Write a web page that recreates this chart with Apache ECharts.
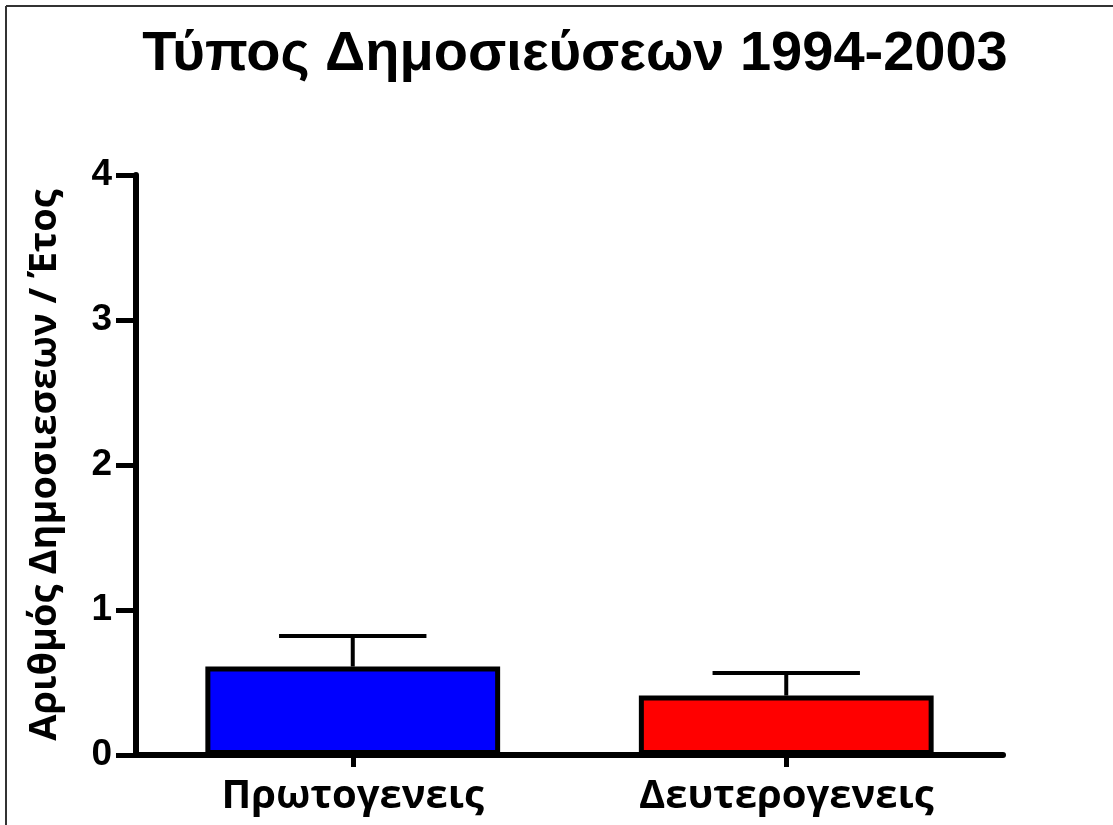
<!DOCTYPE html>
<html>
<head>
<meta charset="utf-8">
<script src="https://cdn.jsdelivr.net/npm/echarts@6/dist/echarts.min.js"></script>
<style>
  html, body { margin: 0; padding: 0; background: #fff; }
  #chart { width: 1113px; height: 825px; }
</style>
</head>
<body>
<div id="chart"></div>
<script>
const categories = ['Πρωτογενεις', 'Δευτερογενεις'];
const means = [0.61, 0.41];
const upper = [0.82, 0.565];
const barColors = ['#0000ff', '#ff0000'];
const yTicks = [0, 1, 2, 3, 4];

const chart = echarts.init(document.getElementById('chart'), null, { renderer: 'canvas' });

const option = {
  animation: false,
  backgroundColor: '#fff',
  title: {
    text: 'Τύπος Δημοσιεύσεων 1994-2003',
    left: 570,
    textAlign: 'center',
    top: 22,
    textStyle: {
      fontFamily: '"Liberation Sans Narrow", "Liberation Sans", Arial, sans-serif',
      fontWeight: 'bold',
      fontSize: 56,
      color: '#000'
    }
  },
  grid: { left: 136, right: 110, top: 175, bottom: 70 },
  xAxis: {
    type: 'category',
    data: categories,
    axisLine: { lineStyle: { color: '#000', width: 6 } },
    axisTick: { show: true, alignWithLabel: true, length: 12, lineStyle: { color: '#000', width: 5 } },
    axisLabel: {
      margin: 22,
      fontFamily: '"Open Sans", "DejaVu Sans", sans-serif',
      fontWeight: 'bold',
      fontSize: 40,
      color: '#000'
    }
  },
  yAxis: {
    type: 'value',
    min: yTicks[0],
    max: yTicks[yTicks.length - 1],
    interval: 1,
    name: 'Αριθμός Δημοσιεσεων / Έτος',
    nameLocation: 'middle',
    nameGap: 72,
    nameRotate: 90,
    nameTextStyle: {
      fontFamily: '"Open Sans", "DejaVu Sans", sans-serif',
      fontWeight: 'bold',
      fontSize: 38,
      color: '#000'
    },
    splitLine: { show: false },
    axisLine: { show: true, lineStyle: { color: '#000', width: 6 } },
    axisTick: { show: true, length: 20, lineStyle: { color: '#000', width: 5 } },
    axisLabel: {
      margin: 24,
      fontFamily: '"Liberation Sans", Arial, sans-serif',
      fontWeight: 'bold',
      fontSize: 37,
      color: '#000'
    }
  },
  series: [
    {
      type: 'bar',
      barWidth: '68%',
      data: means.map((v, i) => ({
        value: v,
        itemStyle: { color: barColors[i], borderColor: '#000', borderWidth: 5 }
      })),
      z: 3
    },
    {
      type: 'custom',
      z: 2,
      data: means.map((v, i) => [i, v, upper[i]]),
      renderItem: function (params, api) {
        const base = api.coord([api.value(0), api.value(1)]);
        const top = api.coord([api.value(0), api.value(2)]);
        const half = api.size([1, 0])[0] * 0.17;
        const style = { stroke: '#000', lineWidth: 4 };
        return {
          type: 'group',
          children: [
            { type: 'line', shape: { x1: base[0], y1: base[1], x2: top[0], y2: top[1] }, style: style },
            { type: 'line', shape: { x1: top[0] - half, y1: top[1], x2: top[0] + half, y2: top[1] }, style: style }
          ]
        };
      }
    }
  ],
  graphic: [
    { type: 'line', shape: { x1: 6, y1: 6, x2: 1113, y2: 6 }, style: { stroke: '#333', lineWidth: 2 } },
    { type: 'line', shape: { x1: 6, y1: 6, x2: 6, y2: 825 }, style: { stroke: '#333', lineWidth: 2 } }
  ]
};

chart.setOption(option);
window.addEventListener('resize', chart.resize);
</script>
</body>
</html>
